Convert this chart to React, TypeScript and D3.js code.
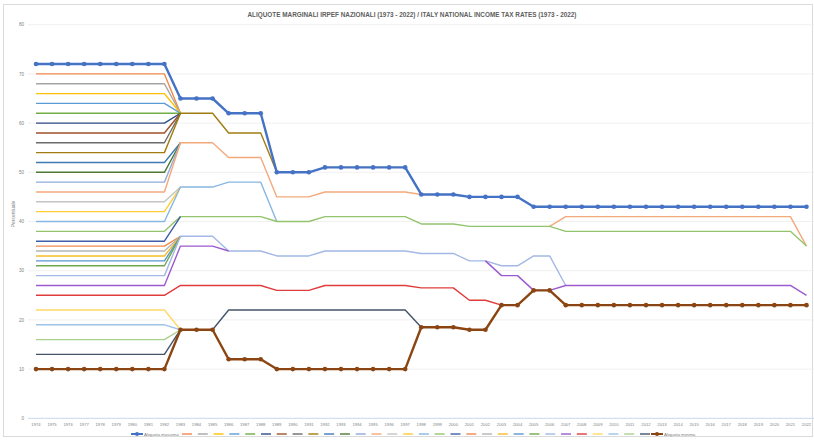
import React from 'react';
import * as d3 from 'd3';

const _ = null;

// categorie (anni)
const years = [
  '1974', '1975', '1976', '1977', '1978', '1979', '1980', '1981', '1982', '1983',
  '1984', '1985', '1986', '1987', '1988', '1989', '1990', '1991', '1992', '1993',
  '1994', '1995', '1996', '1997', '1998', '1999', '2000', '2001', '2002', '2003',
  '2004', '2005', '2006', '2007', '2008', '2009', '2010', '2011', '2012', '2013',
  '2014', '2015', '2016', '2017', '2018', '2019', '2020', '2021', '2022',
];

const yTicks = [0, 10, 20, 30, 40, 50, 60, 70, 80];

// aliquota massima
const maxRate = [
  72, 72, 72, 72, 72, 72, 72, 72, 72, 65, 65, 65, 62, 62, 62, 50, 50, 50, 51, 51,
  51, 51, 51, 51, 45.5, 45.5, 45.5, 45, 45, 45, 45, 43, 43, 43, 43, 43, 43, 43, 43, 43,
  43, 43, 43, 43, 43, 43, 43, 43, 43,
];

// aliquota minima
const minRate = [
  10, 10, 10, 10, 10, 10, 10, 10, 10, 18, 18, 18, 12, 12, 12, 10, 10, 10, 10, 10,
  10, 10, 10, 10, 18.5, 18.5, 18.5, 18, 18, 23, 23, 26, 26, 23, 23, 23, 23, 23, 23, 23,
  23, 23, 23, 23, 23, 23, 23, 23, 23,
];

// scaglioni intermedi (valori mancanti = nessun punto)
const bracketRates: (number | null)[][] = [
  [70, 70, 70, 70, 70, 70, 70, 70, 70, 62],
  [68, 68, 68, 68, 68, 68, 68, 68, 68, 62],
  [66, 66, 66, 66, 66, 66, 66, 66, 66, 62],
  [64, 64, 64, 64, 64, 64, 64, 64, 64, 62],
  [62, 62, 62, 62, 62, 62, 62, 62, 62, 62],
  [60, 60, 60, 60, 60, 60, 60, 60, 60, 62],
  [58, 58, 58, 58, 58, 58, 58, 58, 58, 62],
  [56, 56, 56, 56, 56, 56, 56, 56, 56, 62],
  [54, 54, 54, 54, 54, 54, 54, 54, 54, 62, 62, 62, 58, 58, 58, 50],
  [52, 52, 52, 52, 52, 52, 52, 52, 52, 56],
  [50, 50, 50, 50, 50, 50, 50, 50, 50, 56],
  [48, 48, 48, 48, 48, 48, 48, 48, 48, 56],
  [46, 46, 46, 46, 46, 46, 46, 46, 46, 56, 56, 56, 53, 53, 53, 45, 45, 45, 46, 46,
    46, 46, 46, 46, 45.5, _, _, _, _, _, _, _, 39, 41, 41, 41, 41, 41, 41, 41,
    41, 41, 41, 41, 41, 41, 41, 41, 35],
  [44, 44, 44, 44, 44, 44, 44, 44, 44, 47],
  [42, 42, 42, 42, 42, 42, 42, 42, 42, 47],
  [40, 40, 40, 40, 40, 40, 40, 40, 40, 47, 47, 47, 48, 48, 48, 40],
  [38, 38, 38, 38, 38, 38, 38, 38, 38, 41, 41, 41, 41, 41, 41, 40, 40, 40, 41, 41,
    41, 41, 41, 41, 39.5, 39.5, 39.5, 39, 39, 39, 39, 39, 39, 38, 38, 38, 38, 38, 38, 38,
    38, 38, 38, 38, 38, 38, 38, 38, 35],
  [36, 36, 36, 36, 36, 36, 36, 36, 36, 41],
  [35, 35, 35, 35, 35, 35, 35, 35, 35, 37],
  [34, 34, 34, 34, 34, 34, 34, 34, 34, 37],
  [33, 33, 33, 33, 33, 33, 33, 33, 33, 37],
  [32, 32, 32, 32, 32, 32, 32, 32, 32, 37],
  [31, 31, 31, 31, 31, 31, 31, 31, 31, 37],
  [29, 29, 29, 29, 29, 29, 29, 29, 29, 37, 37, 37, 34, 34, 34, 33, 33, 33, 34, 34,
    34, 34, 34, 34, 33.5, 33.5, 33.5, 32, 32, 31, 31, 33, 33, 27],
  [27, 27, 27, 27, 27, 27, 27, 27, 27, 35, 35, 35, 34, _, _, _, _, _, _, _,
    _, _, _, _, _, _, _, _, 32, 29, 29, 26, 26, 27, 27, 27, 27, 27, 27, 27,
    27, 27, 27, 27, 27, 27, 27, 27, 25],
  [25, 25, 25, 25, 25, 25, 25, 25, 25, 27, 27, 27, 27, 27, 27, 26, 26, 26, 27, 27,
    27, 27, 27, 27, 26.5, 26.5, 26.5, 24, 24, 23],
  [22, 22, 22, 22, 22, 22, 22, 22, 22, 18],
  [19, 19, 19, 19, 19, 19, 19, 19, 19, 18],
  [16, 16, 16, 16, 16, 16, 16, 16, 16, 18],
  [13, 13, 13, 13, 13, 13, 13, 13, 13, 18, 18, 18, 22, 22, 22, 22, 22, 22, 22, 22,
    22, 22, 22, 22, 18.5],
];

const bracketColors = [
  '#F08A4B', '#A5A5A5', '#FFC000', '#5B9BD5', '#70AD47', '#2E4A86', '#A0522D', '#6B6B6B',
  '#A07C10', '#3F7AB5', '#4C7A34', '#8FAADC', '#F4A97B', '#C4C4C4', '#FFCD33', '#86B7E3',
  '#92C46D', '#3E5FA6', '#EE8A50', '#B5B5B5', '#F2BE2A', '#5B95D0', '#6FA84A', '#A3B8E6',
  '#9B5BD0', '#E03C3C', '#FFD966', '#9DC3E6', '#A9D18E', '#44546A',
];

const maxColor = '#4472C4';
const minColor = '#8B4513';
const font = '"Liberation Sans", Arial, sans-serif';

const W = 814;
const H = 441;

export default function App() {
  const x = d3.scalePoint<string>().domain(years).range([36, 806.5]);
  const y = d3.scaleLinear().domain([0, 80]).range([418.3, 24.7]);

  const line = d3
    .line<number | null | undefined>()
    .defined((d) => d != null)
    .x((_d, i) => x(years[i]) as number)
    .y((d) => y(d as number));

  const legendX = d3.scaleLinear().domain([0, bracketRates.length - 1]).range([182, 640]);
  const legendY = 434;

  return (
    <svg width={W} height={H} style={{ position: 'absolute', left: 0, top: 0, background: '#fff' }}>
      <rect x={3.5} y={4.5} width={809} height={432} fill="#fff" stroke="#DADADA" />

      <text x={412} y={17} textAnchor="middle" fontFamily={font} fontSize={6.3} fontWeight="bold" fill="#606060"
        textLength={329} lengthAdjust="spacingAndGlyphs">
        ALIQUOTE MARGINALI IRPEF NAZIONALI (1973 - 2022) / ITALY NATIONAL INCOME TAX RATES (1973 - 2022)
      </text>

      {/* griglia */}
      {yTicks.map((t) => (
        <g key={t}>
          <line x1={28} x2={814} y1={y(t)} y2={y(t)} stroke={t === 0 ? '#C9D8EC' : '#ECECEC'} strokeWidth={t === 0 ? 1 : 0.8} />
          <text x={24} y={y(t) + 1.6} textAnchor="end" fontFamily={font} fontSize={4.6} fill="#7F7F7F">{t}</text>
        </g>
      ))}

      <text transform={`translate(15,${214}) rotate(-90)`} textAnchor="middle" fontFamily={font} fontSize={5} fill="#7F7F7F">
        Percentuale
      </text>

      {years.map((yr) => (
        <text key={yr} x={x(yr)} y={426} textAnchor="middle" fontFamily={font} fontSize={4.2} fill="#7F7F7F">{yr}</text>
      ))}

      {/* scaglioni */}
      {bracketRates.map((s, k) => (
        <path key={k} d={line(years.map((_y, i) => s[i])) || ''} fill="none" stroke={bracketColors[k]}
          strokeWidth={1.4} strokeLinejoin="round" />
      ))}

      {[{ data: maxRate, color: maxColor }, { data: minRate, color: minColor }].map((s, k) => (
        <g key={k}>
          <path d={line(s.data) || ''} fill="none" stroke={s.color} strokeWidth={2.4} strokeLinejoin="round" />
          {s.data.map((v, i) => (
            <circle key={i} cx={x(years[i])} cy={y(v)} r={2.3} fill={s.color} />
          ))}
        </g>
      ))}

      {/* legenda */}
      <line x1={131} x2={143} y1={legendY} y2={legendY} stroke={maxColor} strokeWidth={2} />
      <circle cx={137} cy={legendY} r={2} fill={maxColor} />
      <text x={144} y={legendY + 1.5} fontFamily={font} fontSize={4.4} fill="#7F7F7F">Aliquota massima</text>
      {bracketColors.map((c, k) => (
        <line key={k} x1={legendX(k)} x2={legendX(k) + 10} y1={legendY} y2={legendY} stroke={c} strokeWidth={1.4} />
      ))}
      <line x1={651} x2={663} y1={legendY} y2={legendY} stroke={minColor} strokeWidth={2} />
      <circle cx={657} cy={legendY} r={2} fill={minColor} />
      <text x={664} y={legendY + 1.5} fontFamily={font} fontSize={4.4} fill="#7F7F7F">Aliquota minima</text>
    </svg>
  );
}
